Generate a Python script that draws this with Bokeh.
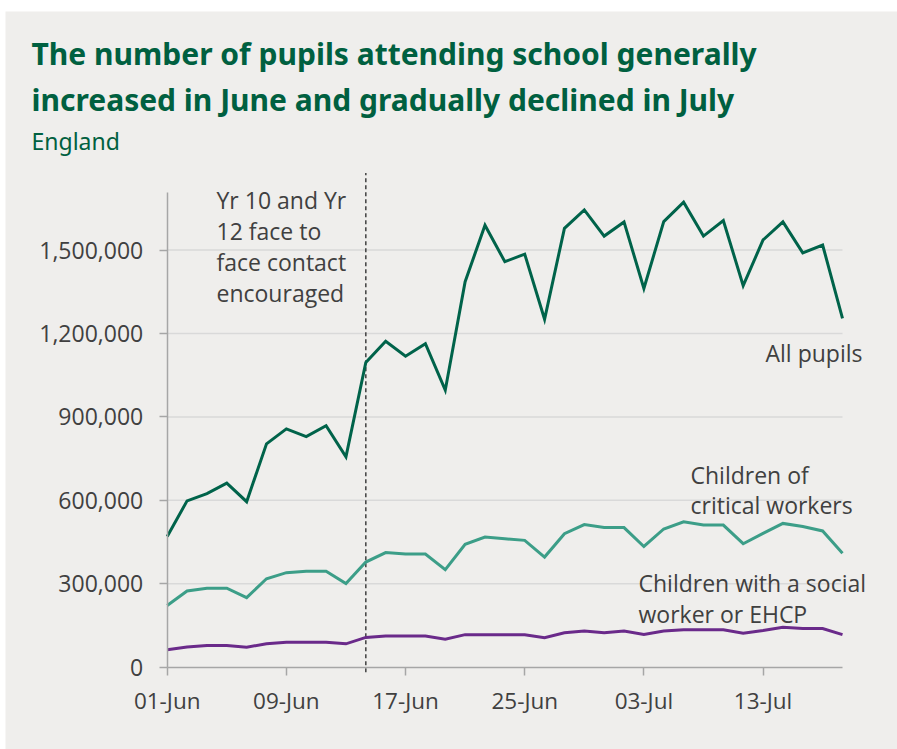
from bokeh.plotting import figure
from bokeh.models import Range1d, FixedTicker, NumeralTickFormatter, Label
from bokeh.embed import file_html
from bokeh.resources import INLINE

# ---------------- data ----------------
dates = ["01-Jun", "02-Jun", "03-Jun", "04-Jun", "05-Jun",
         "08-Jun", "09-Jun", "10-Jun", "11-Jun", "12-Jun",
         "15-Jun", "16-Jun", "17-Jun", "18-Jun", "19-Jun",
         "22-Jun", "23-Jun", "24-Jun", "25-Jun", "26-Jun",
         "29-Jun", "30-Jun", "01-Jul", "02-Jul", "03-Jul",
         "06-Jul", "07-Jul", "08-Jul", "09-Jul", "10-Jul",
         "13-Jul", "14-Jul", "15-Jul", "16-Jul", "17-Jul"]

all_pupils = [470000, 598000, 624000, 662000, 595000,
              803000, 857000, 829000, 868000, 756000,
              1096000, 1172000, 1118000, 1163000, 996000,
              1386000, 1589000, 1458000, 1485000, 1251000,
              1578000, 1644000, 1550000, 1601000, 1362000,
              1602000, 1672000, 1550000, 1606000, 1372000,
              1536000, 1601000, 1490000, 1518000, 1254000]

critical_workers = [222000, 274000, 284000, 284000, 250000,
                    318000, 340000, 345000, 345000, 301000,
                    378000, 412000, 407000, 407000, 351000,
                    442000, 468000, 462000, 456000, 396000,
                    480000, 513000, 502000, 502000, 434000,
                    497000, 523000, 511000, 511000, 444000,
                    481000, 517000, 506000, 490000, 410000]

social_ehcp = [63000, 73000, 78000, 78000, 72000,
               84000, 90000, 90000, 90000, 84000,
               107000, 112000, 112000, 112000, 101000,
               117000, 117000, 117000, 117000, 106000,
               124000, 130000, 124000, 130000, 118000,
               130000, 135000, 135000, 135000, 122000,
               132000, 144000, 139000, 139000, 117000]

x_tick_labels = ["01-Jun", "09-Jun", "17-Jun", "25-Jun", "03-Jul", "13-Jul"]
y_ticks = [0, 300000, 600000, 900000, 1200000, 1500000]
event_date = "15-Jun"
y_axis_top = 1705000
event_line_top = 1777000
event_line_bottom = -18000

# ---------------- styling / layout ----------------
BG = "#efeeec"
GREEN_DARK = "#00634a"
TITLE_GREEN = "#006040"
TEAL = "#3c9e88"
PURPLE = "#6a2a8a"
TEXT = "#404040"
AXIS = "#a6a6a6"
GRID = "#d9d9d9"
FONT = "Open Sans"
TFONT = "Noto Sans"

PAGE_W, PAGE_H = 897, 749
OFF_L, OFF_T = 5, 11          # white strip left / top
W, H = PAGE_W - OFF_L, PAGE_H - OFF_T

# where data x=0..34 and y=0..1.5M land on the page (px)
PX_X0, PX_X34 = 166.7, 842.0
PY_Y0, PY_Y15 = 666.7, 249.5
n_last = len(dates) - 1
ppx = (PX_X34 - PX_X0) / n_last
upy = 1500000 / (PY_Y0 - PY_Y15)
X_START = -(PX_X0 - OFF_L) / ppx
X_END = n_last + (PAGE_W - PX_X34) / ppx
Y_START = -(PAGE_H - PY_Y0) * upy
Y_END = (PY_Y0 - OFF_T) * upy
BASELINE_FIX = 9

def dx(px):
    return X_START + (px - OFF_L) / ppx
def dy(py):
    return Y_END - (py - BASELINE_FIX - OFF_T) * upy

xs = list(range(len(dates)))

p = figure(width=W, height=H, output_backend="svg", toolbar_location=None,
           x_range=Range1d(X_START, X_END), y_range=Range1d(Y_START, Y_END),
           min_border=0, min_border_left=0, min_border_right=0,
           min_border_top=0, min_border_bottom=0)
p.margin = (OFF_T, 0, 0, OFF_L)
p.background_fill_color = BG
p.border_fill_color = BG
p.outline_line_color = None
p.xgrid.visible = False
p.ygrid.visible = False

# axes (inside frame, at the data origin)
tick_idx = [dates.index(t) for t in x_tick_labels]
p.xaxis.fixed_location = 0
p.xaxis.bounds = (0, n_last)
p.xaxis.ticker = FixedTicker(ticks=tick_idx)
p.xaxis.major_label_overrides = {i: dates[i] for i in tick_idx}
p.xaxis.major_tick_out = 8
p.xaxis.major_tick_in = 0
p.xaxis.minor_tick_line_color = None
p.xaxis.axis_line_color = AXIS
p.xaxis.axis_line_width = 1.5
p.xaxis.major_tick_line_color = AXIS
p.xaxis.major_tick_line_width = 1.5
p.xaxis.major_label_text_font = FONT
p.xaxis.major_label_text_font_size = "22.5px"
p.xaxis.major_label_text_color = TEXT
p.xaxis.major_label_standoff = 10

p.yaxis.fixed_location = 0
p.yaxis.bounds = (0, y_axis_top)
p.yaxis.ticker = FixedTicker(ticks=y_ticks)
p.yaxis.formatter = NumeralTickFormatter(format="0,0")
p.yaxis.axis_line_color = AXIS
p.yaxis.axis_line_width = 1.5
p.yaxis.major_tick_out = 8
p.yaxis.major_tick_in = 0
p.yaxis.minor_tick_line_color = None
p.yaxis.major_tick_line_color = AXIS
p.yaxis.major_tick_line_width = 1.5
p.yaxis.major_label_text_font = FONT
p.yaxis.major_label_text_font_size = "23px"
p.yaxis.major_label_text_color = TEXT
p.yaxis.major_label_standoff = 16

# horizontal gridlines across the data span
grid_vals = [v for v in y_ticks if v > 0]
p.segment(x0=[0] * len(grid_vals), y0=grid_vals, x1=[n_last] * len(grid_vals),
          y1=grid_vals, line_color=GRID, line_width=1.5)

# event line
ev = dates.index(event_date)
p.segment(x0=[ev], y0=[event_line_bottom], x1=[ev], y1=[event_line_top],
          line_color=TEXT, line_width=1.5, line_dash="4 3")

# series
p.line(xs, social_ehcp, line_color=PURPLE, line_width=3, line_join="miter")
p.line(xs, critical_workers, line_color=TEAL, line_width=3, line_join="miter")
p.line(xs, all_pupils, line_color=GREEN_DARK, line_width=3, line_join="miter")

def label(text, px, py, size="23px", color=TEXT, font=FONT, style="normal"):
    p.add_layout(Label(x=dx(px), y=dy(py), text=text, text_font=font,
                       text_font_size=size, text_color=color,
                       text_font_style=style, text_baseline="alphabetic",
                       text_align="left"))

# titles
label("The number of pupils attending school generally", 31, 62, "30px", TITLE_GREEN, TFONT, "bold")
label("increased in June and gradually declined in July", 31, 108, "30px", TITLE_GREEN, TFONT, "bold")
label("England", 31, 149, "23px", TITLE_GREEN, TFONT)

# annotations
for i, t in enumerate(["Yr 10 and Yr", "12 face to", "face contact", "encouraged"]):
    label(t, 216, 208 + i * 31.3)
label("All pupils", 765, 361)
label("Children of", 690, 483)
label("critical workers", 690, 513)
label("Children with a social", 638, 591)
label("worker or EHCP", 638, 622)

open("out.html", "w").write(file_html(p, INLINE))
